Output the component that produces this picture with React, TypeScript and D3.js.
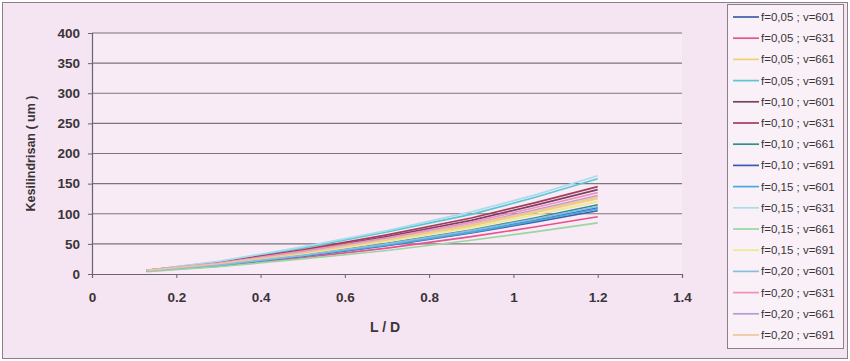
import { useRef, useEffect } from 'react';
import * as d3 from 'd3';

// L/D sample points
const ldValues = [0.13, 0.3, 0.5, 0.7, 0.9, 1.05, 1.2];

const seriesNames = [
    'f=0,05 ; v=601', 'f=0,05 ; v=631', 'f=0,05 ; v=661', 'f=0,05 ; v=691',
    'f=0,10 ; v=601', 'f=0,10 ; v=631', 'f=0,10 ; v=661', 'f=0,10 ; v=691',
    'f=0,15 ; v=601', 'f=0,15 ; v=631', 'f=0,15 ; v=661', 'f=0,15 ; v=691',
    'f=0,20 ; v=601', 'f=0,20 ; v=631', 'f=0,20 ; v=661', 'f=0,20 ; v=691',
];

const seriesColors = [
    '#3f5fa8', '#e8508e', '#f0d070', '#58c8d0',
    '#7a4068', '#a83a5a', '#2f8f8c', '#3a58b8',
    '#48a8e0', '#a8dcec', '#98d8a0', '#f0e890',
    '#88bce0', '#f090b4', '#b89ad8', '#f0c49c',
];

// Kesilindrisan (um) per series, read at each L/D point
const seriesValues = [
    [5, 14, 29, 47, 68, 86, 105],
    [5, 13, 27, 43, 62, 78, 95],
    [6, 16, 33, 55, 80, 102, 125],
    [6, 20, 43, 70, 99, 127, 158],
    [6, 18, 38, 62, 89, 114, 140],
    [6, 19, 40, 65, 93, 118, 145],
    [5, 15, 31, 51, 73, 93, 115],
    [5, 14, 30, 49, 70, 89, 110],
    [5, 14, 30, 48, 69, 88, 108],
    [6, 21, 45, 72, 103, 131, 163],
    [4, 12, 25, 39, 56, 70, 85],
    [6, 16, 33, 54, 77, 98, 120],
    [5, 15, 31, 50, 72, 91, 112],
    [6, 18, 38, 60, 86, 110, 135],
    [6, 17, 36, 58, 83, 106, 130],
    [6, 17, 35, 57, 82, 104, 128],
];

const yTicks = [0, 50, 100, 150, 200, 250, 300, 350, 400];
const xTicks = [0, 0.2, 0.4, 0.6, 0.8, 1, 1.2, 1.4];

export default function App() {
    const chartRef = useRef<SVGSVGElement>(null);

    useEffect(() => {
        if (!chartRef.current) return;
        const svg = d3.select(chartRef.current);
        svg.selectAll('*').remove();

        const W = 850, H = 361;
        const plot = { left: 92, right: 682, top: 33, bottom: 274 };
        const font = '"Liberation Sans", Arial, sans-serif';

        // chart background + frame
        svg.append('rect')
            .attr('x', 2.5).attr('y', 2.5)
            .attr('width', W - 5).attr('height', H - 5)
            .attr('fill', '#f5e4f1')
            .attr('stroke', '#8a8088');

        // plot area
        svg.append('rect')
            .attr('x', plot.left).attr('y', plot.top)
            .attr('width', plot.right - plot.left).attr('height', plot.bottom - plot.top)
            .attr('fill', '#f8ebf6');

        const x = d3.scaleLinear().domain([0, 1.4]).range([plot.left, plot.right]);
        const y = d3.scaleLinear().domain([0, 400]).range([plot.bottom, plot.top]);

        // gridlines
        svg.append('g')
            .selectAll('line')
            .data(yTicks.filter(d => d > 0))
            .enter()
            .append('line')
            .attr('x1', plot.left).attr('x2', plot.right)
            .attr('y1', d => y(d)).attr('y2', d => y(d))
            .attr('stroke', '#7c747c')
            .attr('stroke-width', 1.2);

        // axes
        const yAxis = svg.append('g')
            .attr('transform', `translate(${plot.left},0)`)
            .call(d3.axisLeft(y).tickValues(yTicks).tickSize(4).tickPadding(8).tickFormat(d => `${d}`));
        const xAxis = svg.append('g')
            .attr('transform', `translate(0,${plot.bottom})`)
            .call(d3.axisBottom(x).tickValues(xTicks).tickSize(4).tickPadding(14).tickFormat(d => `${d}`));

        [yAxis, xAxis].forEach(g => {
            g.select('.domain').attr('stroke', '#6c646c').attr('stroke-width', 1.2);
            g.selectAll('.tick line').attr('stroke', '#6c646c');
            g.selectAll('.tick text')
                .attr('fill', '#3a3438')
                .style('font-family', font)
                .style('font-size', '13.5px')
                .style('font-weight', 'bold');
        });

        // series lines
        const line = d3.line<number>()
            .x((_, i) => x(ldValues[i]))
            .y(d => y(d));

        svg.append('g')
            .selectAll('path')
            .data(seriesValues)
            .enter()
            .append('path')
            .attr('d', d => line(d))
            .attr('fill', 'none')
            .attr('stroke', (_, i) => seriesColors[i])
            .attr('stroke-width', 1.7);

        // axis titles
        svg.append('text')
            .attr('text-anchor', 'middle')
            .attr('transform', `translate(35,${(plot.top + plot.bottom) / 2}) rotate(-90)`)
            .style('font-family', font)
            .style('font-size', '12.5px')
            .style('font-weight', 'bold')
            .attr('fill', '#3a3438')
            .text('Kesilindrisan ( um )');

        svg.append('text')
            .attr('text-anchor', 'middle')
            .attr('x', (plot.left + plot.right) / 2 - 2)
            .attr('y', 332)
            .style('font-family', font)
            .style('font-size', '14px')
            .style('font-weight', 'bold')
            .attr('fill', '#3a3438')
            .text('L / D');

        // legend
        const legend = svg.append('g');
        legend.append('rect')
            .attr('x', 727.5).attr('y', 4.5)
            .attr('width', 116).attr('height', 344)
            .attr('fill', '#f9f1f7')
            .attr('stroke', '#8a8088');

        const rows = legend.selectAll('g.row')
            .data(seriesNames)
            .enter()
            .append('g')
            .attr('class', 'row')
            .attr('transform', (_, i) => `translate(0,${17 + i * 21.2})`);

        rows.append('line')
            .attr('x1', 733).attr('x2', 759)
            .attr('y1', 0).attr('y2', 0)
            .attr('stroke', (_, i) => seriesColors[i])
            .attr('stroke-width', 1.7);

        rows.append('text')
            .attr('x', 761)
            .attr('y', 4)
            .style('font-family', font)
            .style('font-size', '11.5px')
            .attr('fill', '#3a3438')
            .text(d => d);
    }, []);

    return (
        <svg
            ref={chartRef}
            width={850}
            height={361}
            style={{ position: 'absolute', left: 0, top: 0 }}
        />
    );
}
